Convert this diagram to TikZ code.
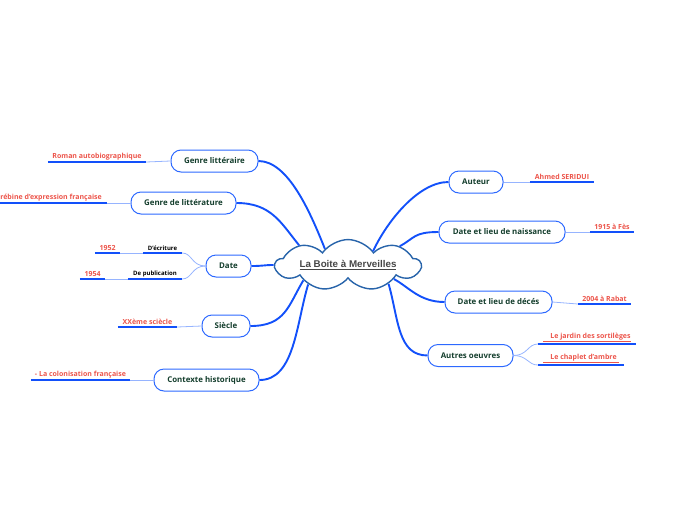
\documentclass[tikz,border=0pt]{standalone}
\usepackage{fontspec}
\setmainfont{Open Sans}
\newfontfamily\titlefont{Liberation Sans}
\usetikzlibrary{shapes.symbols}
\definecolor{mainblue}{RGB}{18,80,250}
\definecolor{boxblue}{RGB}{45,105,255}
\definecolor{twigblue}{RGB}{150,180,255}
\definecolor{cloudblue}{RGB}{40,100,170}
\definecolor{topictext}{RGB}{20,62,45}
\definecolor{leafred}{RGB}{236,84,74}
\definecolor{hubtext}{RGB}{70,70,70}
\tikzset{
  hub/.style={cloud, cloud puffs=9, cloud puff arc=110, aspect=4.5, draw=cloudblue, line width=1.4pt, fill=white, minimum width=145pt, minimum height=38pt, inner sep=-2pt, font=\titlefont\bfseries\fontsize{9.8}{11}\selectfont, text=hubtext},
  topic/.style={draw=boxblue, line width=1pt, rounded corners=10pt, fill=white, minimum height=22pt, inner xsep=2pt, font=\bfseries\fontsize{7.9}{9}\selectfont, text=topictext},
  leaf/.style={anchor=south, inner xsep=0pt, inner ysep=2pt, text=leafred, font=\bfseries\fontsize{7}{8}\selectfont},
  subleaf/.style={anchor=south, inner xsep=0pt, inner ysep=2pt, text=black, font=\bfseries\fontsize{6}{7}\selectfont},
  branch/.style={draw=mainblue, line width=1.9pt},
  underl/.style={draw=mainblue, line width=1.9pt},
  twig/.style={draw=twigblue, line width=0.8pt},
}

\begin{document}
\begin{tikzpicture}[x=1pt,y=-1pt]
\useasboundingbox (0,0) rectangle (696,520);
% centre
\node[hub] (boite) at (348,265) {\underline{La Boite à Merveilles}};
% left topics
\node[topic, minimum width=87pt] (genrelit) at (214.5,161) {Genre littéraire};
\node[topic, minimum width=105pt] (genrede) at (183.5,203) {Genre de littérature};
\node[topic, minimum width=45pt] (date) at (228.5,266) {Date};
\node[topic, minimum width=48pt] (siecle) at (226,326) {Siècle};
\node[topic, minimum width=105pt] (contexte) at (206.5,380) {Contexte historique};
% right topics
\node[topic, minimum width=54pt] (auteur) at (476,182) {Auteur};
\node[topic, minimum width=126pt] (naissance) at (502,232) {Date et lieu de naissance};
\node[topic, minimum width=107pt] (deces) at (498.5,302) {Date et lieu de décés};
\node[topic, minimum width=85pt] (autres) at (470.5,355.5) {Autres oeuvres};
% branches
\draw[branch] (genrelit.east) .. controls +(30,0) and +(-14,-35) .. (boite.145);
\draw[branch] (genrede.east) .. controls +(35,0) and +(-18,-22) .. (boite.158);
\draw[branch] (date.east) .. controls +(12,0) and +(-10,0) .. (boite.west);
\draw[branch] (siecle.east) .. controls +(35,0) and +(-15,25) .. (boite.199);
\draw[branch] (contexte.east) .. controls +(35,0) and +(-12,40) .. (boite.206);
\draw[branch] (auteur.west) .. controls +(-30,0) and +(14,-30) .. (boite.29);
\draw[branch] (naissance.west) .. controls +(-25,0) and +(15,-8) .. (boite.20);
\draw[branch] (deces.west) .. controls +(-25,0) and +(15,8) .. (boite.343);
\draw[branch] (autres.west) .. controls +(-30,0) and +(10,35) .. (boite.335);
% leaves
\node[leaf, minimum width=98pt] (roman) at (97,162) {Roman autobiographique};
\node[leaf, anchor=south east, inner xsep=5pt] (maghreb) at (107,203) {Littérature maghrébine d'expression française};
\node[subleaf, minimum width=39pt] (ecriture) at (162.5,253) {D'écriture};
\node[leaf, minimum width=25pt] (annee1) at (107.5,253) {1952};
\node[subleaf, minimum width=54pt] (publication) at (155,279) {De publication};
\node[leaf, minimum width=25pt] (annee2) at (92.5,279) {1954};
\node[leaf, minimum width=59pt] (xxeme) at (147.5,327) {XXème sciècle};
\node[leaf, minimum width=99pt] (colonie) at (80.5,380) {- La colonisation française};
\node[leaf, minimum width=64pt] (ahmed) at (562,182) {Ahmed SERIDUI};
\node[leaf, minimum width=44pt] (fes) at (612,232) {1915 à Fès};
\node[leaf, minimum width=53pt] (rabat) at (604.5,304) {2004 à Rabat};
\node[leaf, minimum width=98pt] (jardin) at (587,344) {\underline{\hspace{7pt}Le jardin des sortilèges}};
\node[leaf, minimum width=86pt] (chaplet) at (581,365) {\underline{\hspace{7pt}Le chaplet d'ambre\hspace{2pt}}};
% underlines
\foreach \n in {roman,maghreb,ecriture,annee1,publication,annee2,xxeme,colonie,ahmed,fes,rabat,jardin,chaplet}
  \draw[underl] (\n.south west) -- (\n.south east);
% twigs
\draw[twig] (roman.south east) -- (genrelit.west);
\draw[twig] (maghreb.south east) -- (genrede.west);
\draw[twig] (date.west) .. controls +(-14,0) and +(10,0) .. (ecriture.south east);
\draw[twig] (date.west) .. controls +(-14,0) and +(10,0) .. (publication.south east);
\draw[twig] (ecriture.south west) -- (annee1.south east);
\draw[twig] (publication.south west) -- (annee2.south east);
\draw[twig] (xxeme.south east) -- (siecle.west);
\draw[twig] (colonie.south east) -- (contexte.west);
\draw[twig] (auteur.east) -- (ahmed.south west);
\draw[twig] (naissance.east) -- (fes.south west);
\draw[twig] (deces.east) -- (rabat.south west);
\draw[twig] (autres.east) .. controls +(14,0) and +(-10,0) .. (jardin.south west);
\draw[twig] (autres.east) .. controls +(14,0) and +(-10,0) .. (chaplet.south west);
\end{tikzpicture}
\end{document}
